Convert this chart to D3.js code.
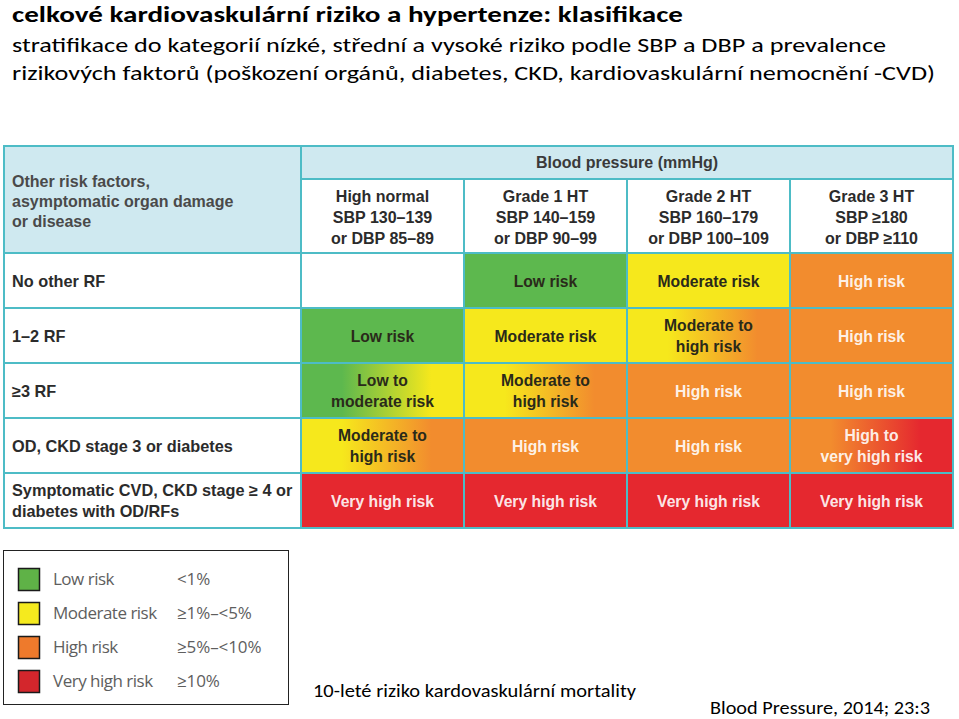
<!DOCTYPE html>
<html><head><meta charset="utf-8">
<script src="https://cdn.jsdelivr.net/npm/d3@7"></script>
<style>body{margin:0;background:#fff}svg{display:block}</style>
</head><body>
<script>
// ---- data ----
const titleText = "celkové kardiovaskulární riziko a hypertenze: klasifikace";
const subtitleLines = [
  "stratifikace do kategorií nízké, střední a vysoké riziko podle SBP a DBP a prevalence",
  "rizikových faktorů (poškození orgánů, diabetes, CKD, kardiovaskulární nemocnění -CVD)"
];
const headerLabel = ["Other risk factors,", "asymptomatic organ damage", "or disease"];
const bpHeader = "Blood pressure (mmHg)";
const columns = ["High normal", "Grade 1 HT", "Grade 2 HT", "Grade 3 HT"];
const columnLines = [
  ["High normal", "SBP 130–139", "or DBP 85–89"],
  ["Grade 1 HT", "SBP 140–159", "or DBP 90–99"],
  ["Grade 2 HT", "SBP 160–179", "or DBP 100–109"],
  ["Grade 3 HT", "SBP ≥180", "or DBP ≥110"]
];
const rows = ["No other RF", "1–2 RF", "≥3 RF", "OD, CKD stage 3 or diabetes", "Symptomatic CVD"];
const rowLines = [
  ["No other RF"],
  ["1–2 RF"],
  ["≥3 RF"],
  ["OD, CKD stage 3 or diabetes"],
  ["Symptomatic CVD, CKD stage ≥ 4 or", "diabetes with OD/RFs"]
];
// risk category per cell: from-category / to-category (same = solid)
const riskFrom = [
  [null, "low", "moderate", "high"],
  ["low", "moderate", "moderate", "high"],
  ["low", "moderate", "high", "high"],
  ["moderate", "high", "high", "high"],
  ["veryhigh", "veryhigh", "veryhigh", "veryhigh"]
];
const riskTo = [
  [null, "low", "moderate", "high"],
  ["low", "moderate", "high", "high"],
  ["moderate", "high", "high", "high"],
  ["high", "high", "high", "veryhigh"],
  ["veryhigh", "veryhigh", "veryhigh", "veryhigh"]
];
const cellLabels = [
  [[], ["Low risk"], ["Moderate risk"], ["High risk"]],
  [["Low risk"], ["Moderate risk"], ["Moderate to", "high risk"], ["High risk"]],
  [["Low to", "moderate risk"], ["Moderate to", "high risk"], ["High risk"], ["High risk"]],
  [["Moderate to", "high risk"], ["High risk"], ["High risk"], ["High to", "very high risk"]],
  [["Very high risk"], ["Very high risk"], ["Very high risk"], ["Very high risk"]]
];
const riskKeys = ["low", "moderate", "high", "veryhigh"];
const riskColors = ["#5db84e", "#f6e81c", "#f28c2e", "#e5282f"];
const legendLabels = ["Low risk", "Moderate risk", "High risk", "Very high risk"];
const legendPct = ["<1%", "≥1%–<5%", "≥5%–<10%", "≥10%"];
const legendColors = ["#5fb247", "#f5ea1e", "#ee7a2c", "#d3262c"];
const footnote = "10-leté riziko kardovaskulární mortality";
const source = "Blood Pressure, 2014; 23:3";

// ---- drawing ----
const W = 959, H = 719;
const svg = d3.select("body").append("svg").attr("width", W).attr("height", H);
const defs = svg.append("defs");
const color = d3.scaleOrdinal().domain(riskKeys).range(riskColors);

const sans = "Calibri, Carlito, Lato, 'Open Sans', sans-serif";
const tbl = "'Liberation Sans', Arial, Helvetica, sans-serif";

svg.append("text").attr("x", 12).attr("y", 22).attr("font-family", sans)
  .attr("font-weight", "bold").attr("font-size", 23).attr("fill", "#000")
  .attr("textLength", 671).attr("lengthAdjust", "spacingAndGlyphs").text(titleText);
subtitleLines.forEach((t, i) => {
  svg.append("text").attr("x", 12).attr("y", 52 + i * 28).attr("font-family", sans)
    .attr("font-size", 21).attr("fill", "#000")
    .attr("textLength", i === 0 ? 874 : 923).attr("lengthAdjust", "spacingAndGlyphs").text(t);
});

const tableLeft = 4, labelRight = 301, tableRight = 953;
const headTop = 146, bpBottom = 179, headBottom = 253, tableBottom = 528;
const x = d3.scaleBand().domain(columns).range([labelRight, tableRight]);
const y = d3.scaleBand().domain(rows).range([headBottom, tableBottom]);
const border = "#4dbcc6";
const headBg = "#cfe9f0";

// header backgrounds
svg.append("rect").attr("x", tableLeft).attr("y", headTop).attr("width", labelRight - tableLeft)
  .attr("height", headBottom - headTop).attr("fill", headBg);
svg.append("rect").attr("x", labelRight).attr("y", headTop).attr("width", tableRight - labelRight)
  .attr("height", bpBottom - headTop).attr("fill", headBg);

// cells
const cells = [];
rows.forEach((r, i) => columns.forEach((c, j) => cells.push({r, c, i, j})));
cells.forEach(d => {
  const f = riskFrom[d.i][d.j], t = riskTo[d.i][d.j];
  let fill = "#fff";
  if (f && f === t) fill = color(f);
  else if (f) {
    const id = `g${d.i}${d.j}`;
    const g = defs.append("linearGradient").attr("id", id).attr("x1", 0).attr("x2", 1).attr("y1", 0).attr("y2", 0);
    g.append("stop").attr("offset", "0%").attr("stop-color", color(f));
    g.append("stop").attr("offset", "25%").attr("stop-color", color(f));
    g.append("stop").attr("offset", "80%").attr("stop-color", color(t));
    g.append("stop").attr("offset", "100%").attr("stop-color", color(t));
    fill = `url(#${id})`;
  }
  svg.append("rect").attr("x", x(d.c)).attr("y", y(d.r)).attr("width", x.bandwidth())
    .attr("height", y.bandwidth()).attr("fill", fill);
  const lines = cellLabels[d.i][d.j];
  const cx = x(d.c) + x.bandwidth() / 2, cy = y(d.r) + y.bandwidth() / 2;
  const txtCol = (f === "low" || f === "moderate") ? "#2a2a1a" : "#fff";
  lines.forEach((l, k) => {
    svg.append("text").attr("x", cx).attr("y", cy + (k - (lines.length - 1) / 2) * 21 + 6)
      .attr("text-anchor", "middle").attr("font-family", tbl).attr("font-weight", "bold")
      .attr("font-size", 15.7).attr("fill", txtCol).attr("fill-opacity", txtCol === "#fff" ? 0.9 : 1)
      .text(l);
  });
});

// row labels
rows.forEach((r, i) => {
  const lines = rowLines[i];
  lines.forEach((l, k) => {
    svg.append("text").attr("x", 12).attr("y", y(r) + y.bandwidth() / 2 + (k - (lines.length - 1) / 2) * 21 + 6)
      .attr("font-family", tbl).attr("font-weight", "bold").attr("font-size", 16.3)
      .attr("fill", "#2b2b2b").text(l);
  });
});

// header texts
headerLabel.forEach((l, k) => {
  svg.append("text").attr("x", 12).attr("y", 187 + k * 20).attr("font-family", tbl)
    .attr("font-weight", "bold").attr("font-size", 16).attr("fill", "#4a4a4a").text(l);
});
svg.append("text").attr("x", (labelRight + tableRight) / 2).attr("y", 168).attr("text-anchor", "middle")
  .attr("font-family", tbl).attr("font-weight", "bold").attr("font-size", 16).attr("fill", "#3a3a3a").text(bpHeader);
columns.forEach((c, j) => {
  columnLines[j].forEach((l, k) => {
    svg.append("text").attr("x", x(c) + x.bandwidth() / 2).attr("y", 202 + k * 21)
      .attr("text-anchor", "middle").attr("font-family", tbl).attr("font-weight", "bold")
      .attr("font-size", 16).attr("fill", "#2b2b2b").text(l);
  });
});

// grid lines
const g = svg.append("g").attr("stroke", border).attr("stroke-width", 2).attr("fill", "none");
g.append("rect").attr("x", tableLeft).attr("y", headTop).attr("width", tableRight - tableLeft).attr("height", tableBottom - headTop);
g.append("line").attr("x1", labelRight).attr("x2", labelRight).attr("y1", headTop).attr("y2", tableBottom);
g.append("line").attr("x1", labelRight).attr("x2", tableRight).attr("y1", bpBottom).attr("y2", bpBottom);
columns.slice(1).forEach(c => g.append("line").attr("x1", x(c)).attr("x2", x(c)).attr("y1", bpBottom).attr("y2", tableBottom));
rows.forEach(r => g.append("line").attr("x1", tableLeft).attr("x2", tableRight).attr("y1", y(r)).attr("y2", y(r)));

// legend
svg.append("rect").attr("x", 3.5).attr("y", 550.5).attr("width", 285).attr("height", 154)
  .attr("fill", "#fff").attr("stroke", "#222").attr("stroke-width", 1);
legendLabels.forEach((l, i) => {
  const ly = 568 + i * 34;
  svg.append("rect").attr("x", 18.5).attr("y", ly + 0.5).attr("width", 21).attr("height", 22)
    .attr("fill", legendColors[i]).attr("stroke", "#1a1a1a").attr("stroke-width", 1.5);
  svg.append("text").attr("x", 53).attr("y", ly + 17).attr("font-family", "'Open Sans', sans-serif")
    .attr("font-size", 17).attr("letter-spacing", -0.5).attr("fill", "#5e5e5e").text(l);
  svg.append("text").attr("x", 177).attr("y", ly + 17).attr("font-family", "'Open Sans', sans-serif")
    .attr("font-size", 17).attr("letter-spacing", -0.1).attr("fill", "#5e5e5e").text(legendPct[i]);
});

svg.append("text").attr("x", 313).attr("y", 697).attr("font-family", sans).attr("font-size", 19)
  .attr("fill", "#000").attr("textLength", 323).attr("lengthAdjust", "spacingAndGlyphs").text(footnote);
svg.append("text").attr("x", 710).attr("y", 714).attr("font-family", sans)
  .attr("font-size", 19).attr("fill", "#000").attr("textLength", 220).attr("lengthAdjust", "spacingAndGlyphs").text(source);
</script>
</body></html>
